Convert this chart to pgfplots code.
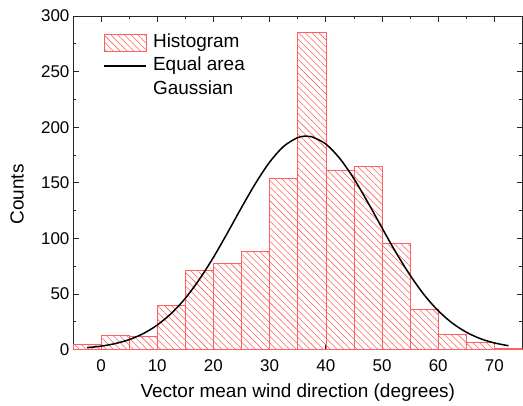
\documentclass[border=0pt]{standalone}
\usepackage{pgfplots}
\pgfplotsset{compat=1.18}
\usetikzlibrary{patterns.meta,calc}
\usepackage{fontspec}
\setmainfont{Liberation Sans}
\definecolor{hatch}{RGB}{255,95,95}
\begin{document}
\begin{tikzpicture}
\begin{axis}[
  name=ax,
  scale only axis,
  width=450pt, height=334pt,
  xmin=-5, xmax=75, ymin=0, ymax=300,
  xtick={0,10,...,70}, ytick={0,50,...,300},
  minor x tick num=1, minor y tick num=1,
  tick align=inside,
  major tick length=6pt, minor tick length=3.5pt,
  axis line style={black!85, line width=0.8pt},
  every tick/.style={black!85, line width=0.8pt},
  /pgf/number format/assume math mode=true,
  tick label style={font=\fontsize{17}{20}\selectfont},
  xticklabel style={yshift=-6pt},
  xlabel={Vector mean wind direction (degrees)},
  ylabel={Counts},
  xlabel style={font=\fontsize{19}{22}\selectfont, at={(axis description cs:0.5,-0.1437)}, anchor=base},
  ylabel style={font=\fontsize{19}{22}\selectfont, at={(axis description cs:-0.1244,0.465)}, anchor=center},
  legend style={at={(axis description cs:0.0667,0.954)}, anchor=north west, draw=none, fill=none,
    inner sep=0pt, font=\fontsize{19}{22}\selectfont, row sep=1pt, column sep=4pt,
    nodes={text height=13.5pt, text depth=4pt, inner sep=2.5pt}},
  legend cell align=left,
]
\addplot[ybar interval, draw=hatch, line width=0.6pt,
  pattern={Lines[angle=-45, distance=4.8pt, line width=0.55pt]}, pattern color=hatch,
  legend image code/.code={\draw[draw=hatch, line width=0.6pt, pattern={Lines[angle=-45, distance=4.8pt, line width=0.55pt]}, pattern color=hatch] (0pt,-8.5pt) rectangle (42pt,8.5pt);}]
coordinates {
(-5,5) (0,13) (5,12) (10,40) (15,71) (20,78) (25,88) (30,154) (35,285)
(40,161) (45,165) (50,96) (55,36) (60,14) (65,7) (70,1) (75,1)
};
\addlegendentry{Histogram}
\addplot[black, line width=1.5pt, smooth, no marks,
  legend image code/.code={\draw[black, line width=1.5pt] (0pt,0pt) -- (42pt,0pt);}]
coordinates {
(-2.5,1.77) (0,3.17) (2.5,5.45) (5,9.03) (7.5,14.4) (10,22.1) (12.5,32.6)
(15,46.2) (17.5,63.2) (20,83.0) (22.5,105.0) (25,127.8) (27.5,149.6)
(30,168.6) (32.5,182.8) (35,190.7) (36.5,192.0) (37.5,191.4) (40,184.9)
(42.5,171.8) (45,153.7) (47.5,132.2) (50,109.5) (52.5,87.2) (55,66.9)
(57.5,49.3) (60,35.0) (62.5,23.9) (65,15.7) (67.5,9.9) (70,6.05) (72.5,3.54)
};
\addlegendentry{Equal area}
\addlegendimage{empty legend}
\addlegendentry{Gaussian}
\end{axis}
\pgfresetboundingbox
\path[use as bounding box] ($(ax.south west)+(-73pt,-56pt)$) rectangle ($(ax.north east)+(0.5pt,16pt)$);
\end{tikzpicture}
\end{document}
